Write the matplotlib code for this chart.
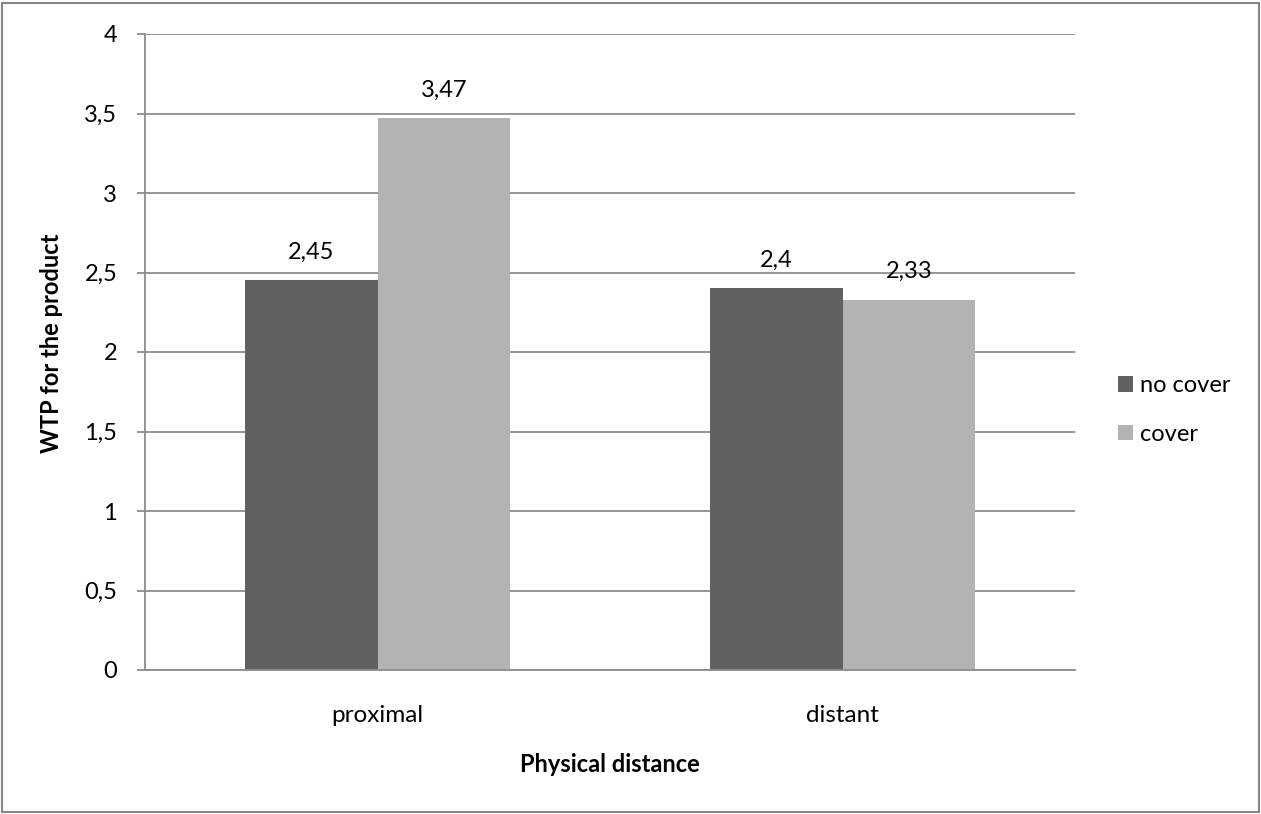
import matplotlib
matplotlib.use("Agg")
import matplotlib.pyplot as plt
from matplotlib.patches import Rectangle, Patch
from matplotlib.ticker import FuncFormatter, MultipleLocator

# WTP by physical distance and cover condition
categories = ["proximal", "distant"]
series_names = ["no cover", "cover"]
no_cover = [2.45, 2.4]
cover = [3.47, 2.33]

DARK = "#616161"
LIGHT = "#b3b3b3"
GRID = "#8c8c8c"

plt.rcParams["font.family"] = ["Lato", "DejaVu Sans"]


def comma(v):
    return f"{v:g}".replace(".", ",")


def main():
    fig = plt.figure(figsize=(12.61, 8.14), dpi=100)
    ax = fig.add_axes([145 / 1261, 1 - 670 / 814, 930 / 1261, 636 / 814])

    width = 0.286
    centers = [0.5 + i for i in range(len(categories))]
    for vals, color, shift in [(no_cover, DARK, -1), (cover, LIGHT, 1)]:
        xs = [c + shift * width / 2 for c in centers]
        ax.bar(xs, vals, width=width, color=color, zorder=3)
        for x, v in zip(xs, vals):
            ax.annotate(comma(v), (x, v), xytext=(0, 20), textcoords="offset points",
                        ha="center", va="center", fontsize=17)

    ax.set_xlim(0, 2)
    ax.set_ylim(0, 4)
    ax.yaxis.set_major_locator(MultipleLocator(0.5))
    ax.yaxis.set_major_formatter(FuncFormatter(lambda v, _: comma(v)))
    ax.grid(axis="y", color=GRID, linewidth=1.3, zorder=0)
    ax.set_xticks(centers)
    ax.set_xticklabels(categories)
    ax.tick_params(axis="x", length=0, pad=25, labelsize=17.5)
    ax.tick_params(axis="y", length=6, width=1.3, color=GRID, pad=14, labelsize=17)

    for side in ["top", "right"]:
        ax.spines[side].set_visible(False)
    for side in ["left", "bottom"]:
        ax.spines[side].set_color(GRID)
        ax.spines[side].set_linewidth(1.3)
        ax.spines[side].set_zorder(4)

    fig.text(610 / 1261, 1 - 765 / 814, "Physical distance", ha="center", va="center",
             fontsize=17, fontweight="bold")
    fig.text(52 / 1261, 1 - 343 / 814, "WTP for the product", ha="center", va="center",
             rotation=90, fontsize=17, fontweight="bold")

    handles = [Patch(facecolor=DARK), Patch(facecolor=LIGHT)]
    fig.legend(handles, series_names, loc="upper left", bbox_to_anchor=(1118 / 1261, 1 - 375 / 814),
               frameon=False, fontsize=17, handlelength=0.64, handleheight=0.64,
               handletextpad=0.3, labelspacing=1.17, borderpad=0, borderaxespad=0)

    # outer frame around the whole chart
    fig.patches.append(Rectangle((2 / 1261, 2 / 814), 1257 / 1261, 809 / 814,
                                 transform=fig.transFigure, fill=False,
                                 edgecolor="#868686", linewidth=1.5))

    fig.savefig("out.png", dpi=100)


if __name__ == "__main__":
    main()
